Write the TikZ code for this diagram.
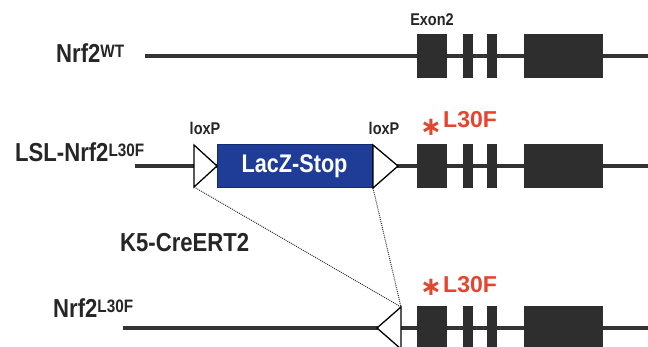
\documentclass[tikz,border=0pt]{standalone}
\usepackage{fontspec}
\setmainfont{Liberation Sans}
\newfontfamily\condfont{Liberation Sans}[FakeStretch=0.85]
\newfontfamily\symfont{DejaVu Sans}
\definecolor{exonc}{HTML}{2E2E2E}
\definecolor{linec}{HTML}{333333}
\definecolor{laczc}{HTML}{1F3D96}
\definecolor{laczb}{HTML}{142A6E}
\definecolor{mutc}{HTML}{E5452F}
\newcommand\mylbl{\condfont\bfseries\fontsize{26}{26}\selectfont}
\newcommand\supx[1]{\raisebox{5.7pt}{\fontsize{18}{18}\selectfont #1}}
\newcommand\exonrow[2]{%
  \node[exon,minimum width=30pt] (#2a) at (432,#1) {};
  \node[exon,minimum width=10pt] (#2b) at (468,#1) {};
  \node[exon,minimum width=10pt] (#2c) at (492,#1) {};
  \node[exon,minimum width=79pt] (#2d) at (563.5,#1) {};}
\begin{document}
\begin{tikzpicture}[x=1pt,y=-1pt,
  gline/.style={draw=linec,line width=3.5pt},
  exon/.style={fill=exonc,draw=none,minimum height=44pt,inner sep=0pt,outer sep=0pt},
  loxtri/.style={fill=white,draw=black,line width=1.3pt,line join=miter},
  lacz/.style={fill=laczc,draw=laczb,line width=1pt,text=white,inner sep=0pt,
    font=\condfont\bfseries\fontsize{25.5}{25.5}\selectfont},
  lab/.style={inner sep=0pt,font=\mylbl,text=black!85},
  loxlab/.style={inner sep=0pt,font=\condfont\bfseries\fontsize{17}{17}\selectfont,text=black!85},
  mut/.style={inner sep=0pt,text=mutc,font=\bfseries\fontsize{23}{23}\selectfont},
  ast/.style={inner sep=0pt,text=mutc,font=\symfont\bfseries\fontsize{26}{26}\selectfont},
  cre/.style={draw=black!85,line width=1pt,dash pattern=on 0.9pt off 1.1pt}]
\useasboundingbox (0,0) rectangle (648,347);
\clip (0,0) rectangle (648,347);
\fill[white] (0,0) rectangle (648,347);
% genomic lines
\coordinate (r1s) at (145,56); \coordinate (r1e) at (650,56);
\coordinate (r2s) at (135,166); \coordinate (r2e) at (650,166);
\coordinate (r3s) at (123,328); \coordinate (r3e) at (650,328);
\draw[gline] (r1s) -- (r1e);
\draw[gline] (r2s) -- (r2e);
\draw[gline] (r3s) -- (r3e);
% exons
\exonrow{56}{ea}
\exonrow{166}{eb}
\exonrow{328}{ec}
% LacZ-Stop
\node[lacz,minimum width=155pt,minimum height=43pt] (lacz) at (294.5,166) {LacZ-Stop};
% loxP triangles
\coordinate (lA) at (194,145); \coordinate (lB) at (194,187); \coordinate (lC) at (217,166);
\coordinate (rA) at (373,145); \coordinate (rB) at (373,188); \coordinate (rC) at (398,166);
\coordinate (tA) at (401,307); \coordinate (tB) at (401,349); \coordinate (tC) at (377,328);
\filldraw[loxtri] (lA) -- (lC) -- (lB) -- cycle;
\filldraw[loxtri] (rA) -- (rC) -- (rB) -- cycle;
\filldraw[loxtri] (tA) -- (tC) -- (tB) -- cycle;
% Cre recombination
\draw[cre] (lB) -- (tA);
\draw[cre] (rB) -- (tA);
% labels
\node[lab,anchor=base west] (wt) at (56,63) {Nrf2\supx{WT}};
\node[lab,anchor=base west] (lsl) at (15,162) {LSL-Nrf2\supx{L30F}};
\node[lab,anchor=base west] (k5) at (120,252) {K5-CreERT2};
\node[lab,anchor=base west] (l30) at (53,318) {Nrf2\supx{L30F}};
\node[loxlab,anchor=base] (lox1) at (205,135) {loxP};
\node[loxlab,anchor=base] (lox2) at (384,135) {loxP};
\node[loxlab,anchor=base] (ex2) at (432,26) {Exon2};
% mutation marks
\node[mut,anchor=base west] (m2) at (443,128) {L30F};
\node[ast] (a2) at (431,127) {∗};
\node[mut,anchor=base west] (m3) at (443,293) {L30F};
\node[ast] (a3) at (431,287) {∗};
\end{tikzpicture}
\end{document}
